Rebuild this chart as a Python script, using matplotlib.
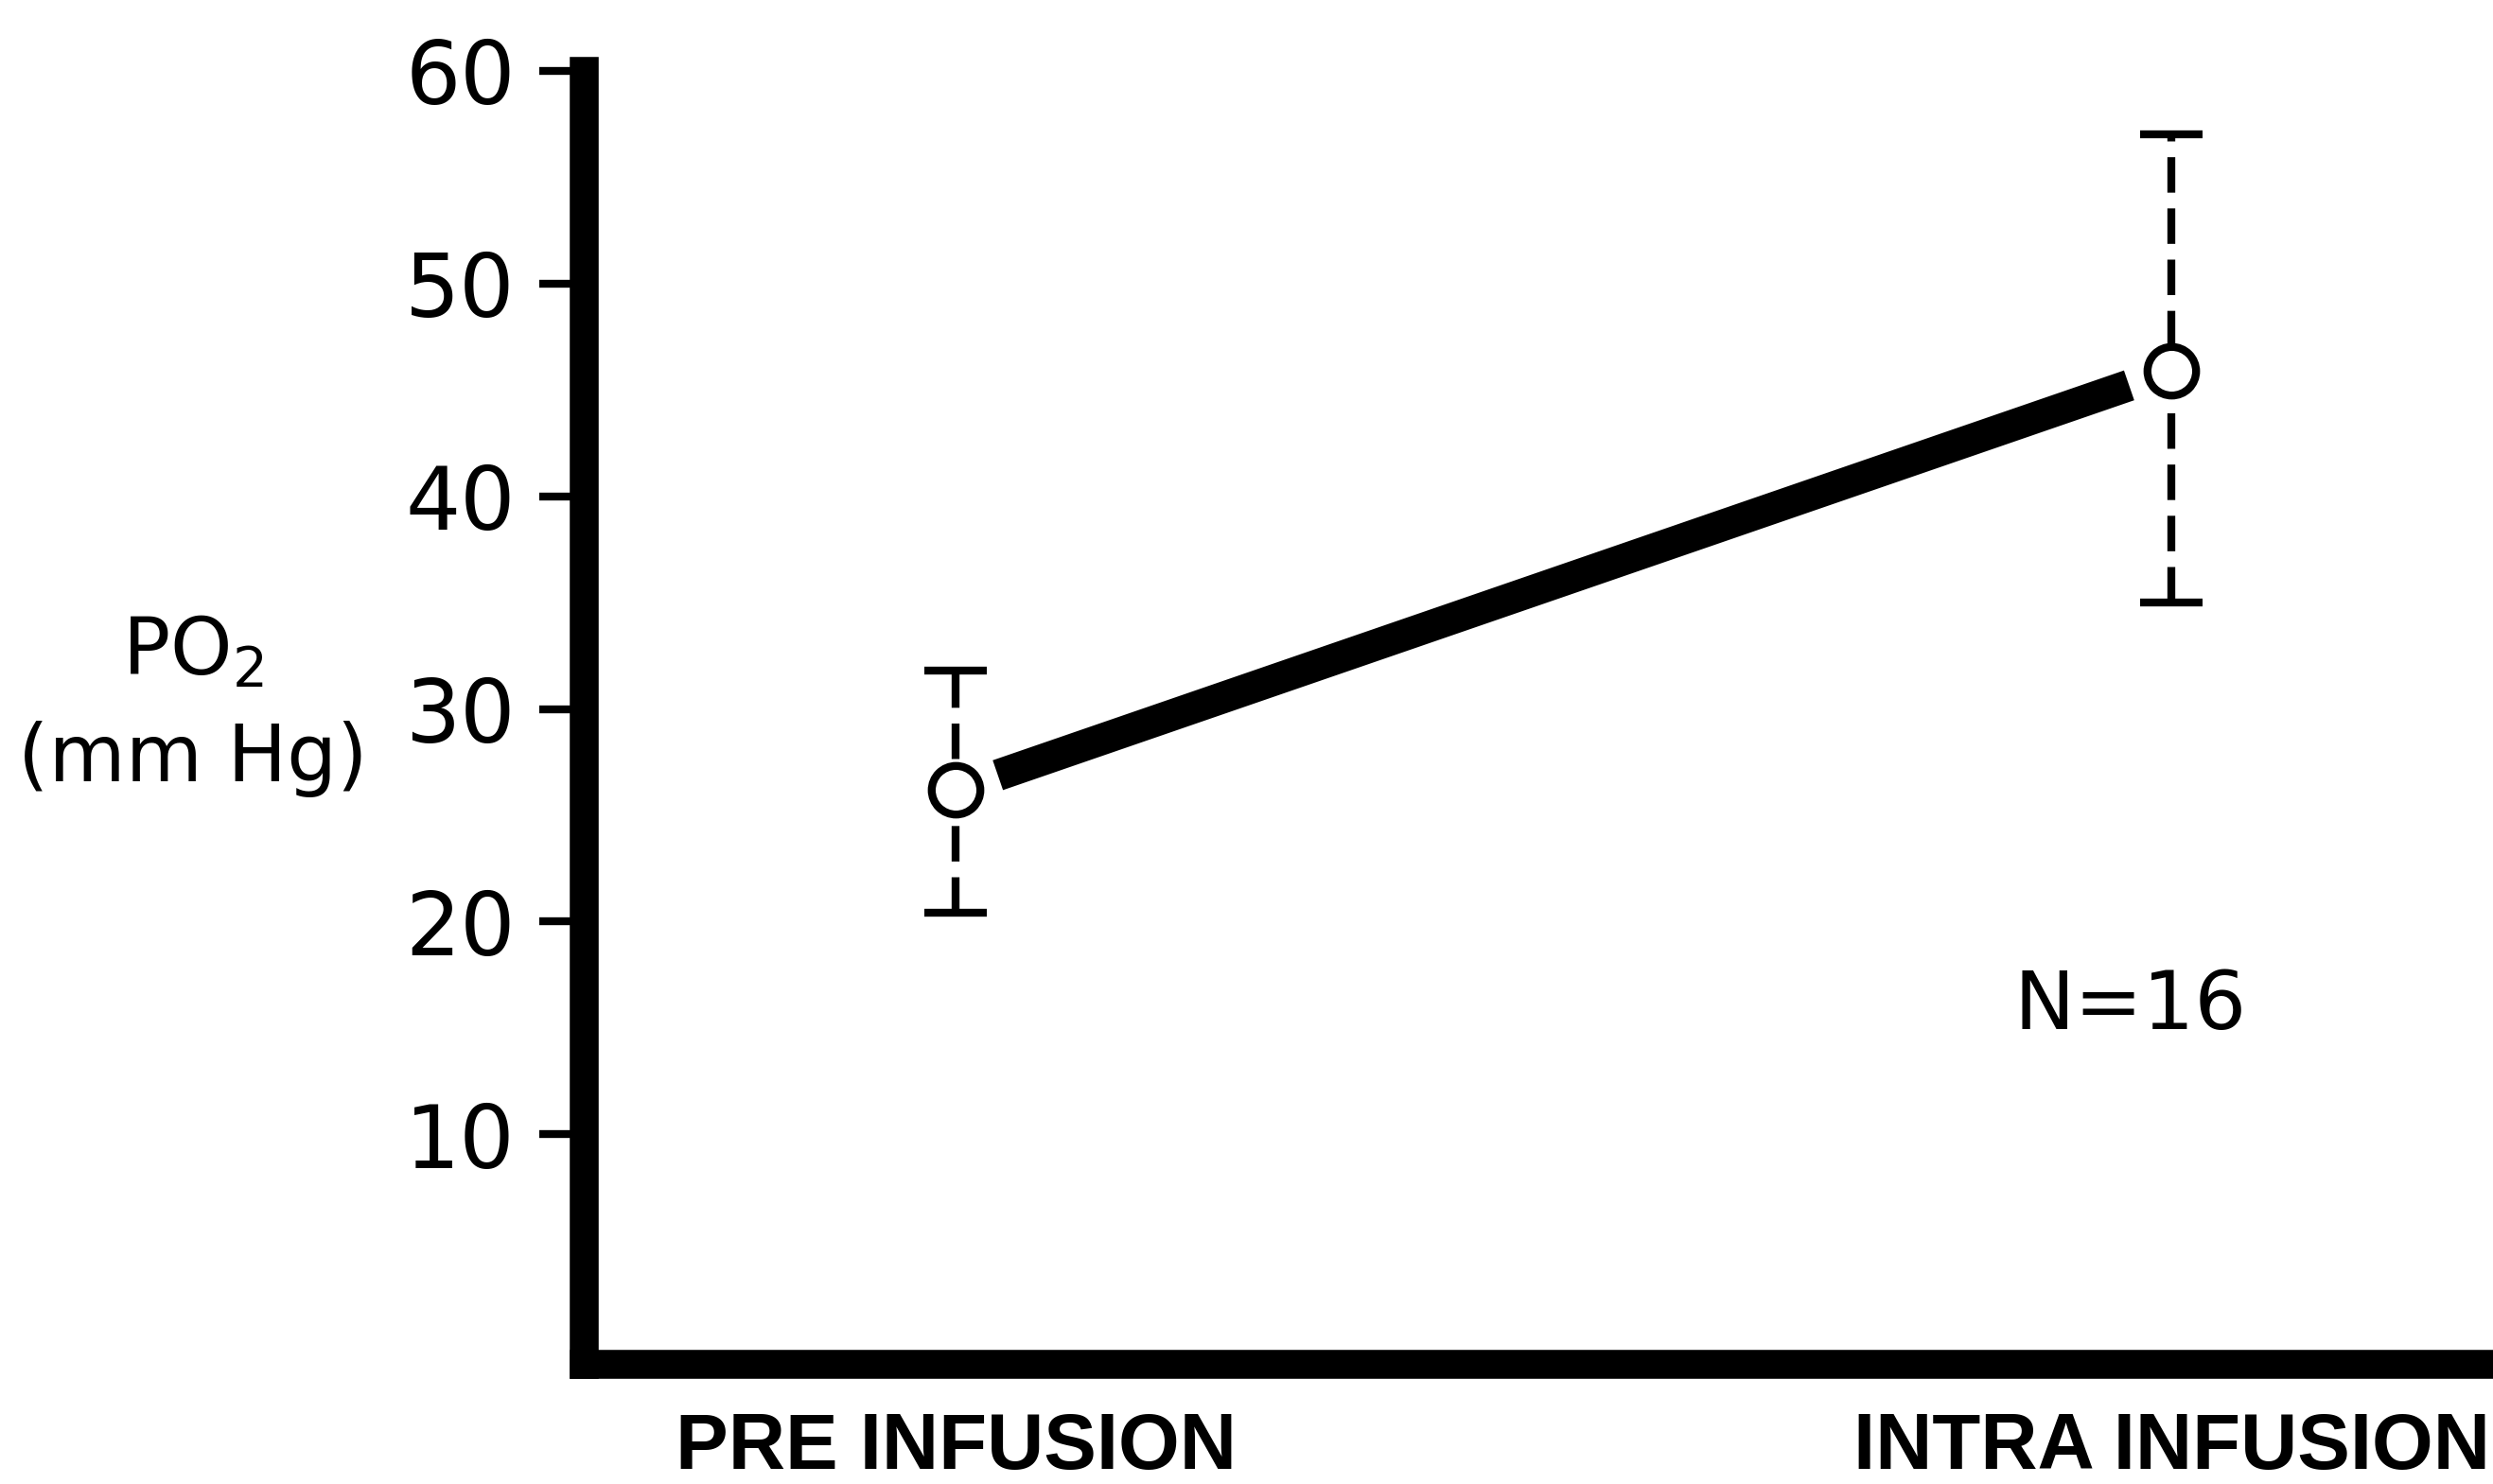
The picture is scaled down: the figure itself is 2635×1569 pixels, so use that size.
import matplotlib
matplotlib.use("Agg")
import matplotlib.pyplot as plt

# PO2 before and during infusion, mean with asymmetric spread (mmHg)
phases = ["PRE INFUSION", "INTRA INFUSION"]
po2_mean = [26.2, 45.9]
po2_upper = [31.8, 57.0]
po2_lower = [20.4, 35.0]
y_ticks = [10, 20, 30, 40, 50, 60]
n_label = "N=16"

x = list(range(len(phases)))
err_low = [m - lo for m, lo in zip(po2_mean, po2_lower)]
err_high = [hi - m for m, hi in zip(po2_mean, po2_upper)]

fig = plt.figure(figsize=(26.35, 15.69), dpi=100)
ax = fig.add_axes([0.2342, 0.0809, 0.7658, 0.8713])

# thick connecting line, stopped short of the markers
ax.annotate("", xy=(x[1], po2_mean[1]), xytext=(x[0], po2_mean[0]),
            arrowprops=dict(arrowstyle="-", lw=24, color="black",
                            shrinkA=34, shrinkB=34, capstyle="butt"))

eb = ax.errorbar(x, po2_mean, yerr=[err_low, err_high], fmt="o", color="black",
                 ms=37, mfc="white", mec="black", mew=6,
                 elinewidth=6, capsize=24, capthick=8, zorder=3)
eb[2][0].set_linestyle((0, (4.5, 2.0)))

ax.set_xlim(-0.3058, 1.2646)
ax.set_ylim(-0.8, 60)

for side in ["top", "right"]:
    ax.spines[side].set_visible(False)
for side in ["left", "bottom"]:
    ax.spines[side].set_linewidth(22)
    ax.spines[side].set_capstyle("projecting")

ax.set_yticks(y_ticks)
ax.set_yticklabels([str(v) for v in y_ticks], fontsize=66, family="DejaVu Sans")
ax.tick_params(axis="y", direction="out", length=34, width=6, pad=18)

ax.set_xticks(x)
ax.set_xticklabels(phases, fontsize=60, fontweight="bold",
                   family=["Liberation Sans Narrow", "Liberation Sans", "DejaVu Sans"])
ax.tick_params(axis="x", length=0, pad=36)

ax.text(-0.2047, 0.550, "PO$_2$", transform=ax.transAxes, ha="center", va="center",
        fontsize=60, clip_on=False)
ax.text(-0.2047, 0.468, "(mm Hg)", transform=ax.transAxes, ha="center", va="center",
        fontsize=60, clip_on=False)
ax.text(0.810, 0.276, n_label, transform=ax.transAxes, ha="center", va="center",
        fontsize=62)

fig.savefig("out.png", dpi=100)
plt.close(fig)
